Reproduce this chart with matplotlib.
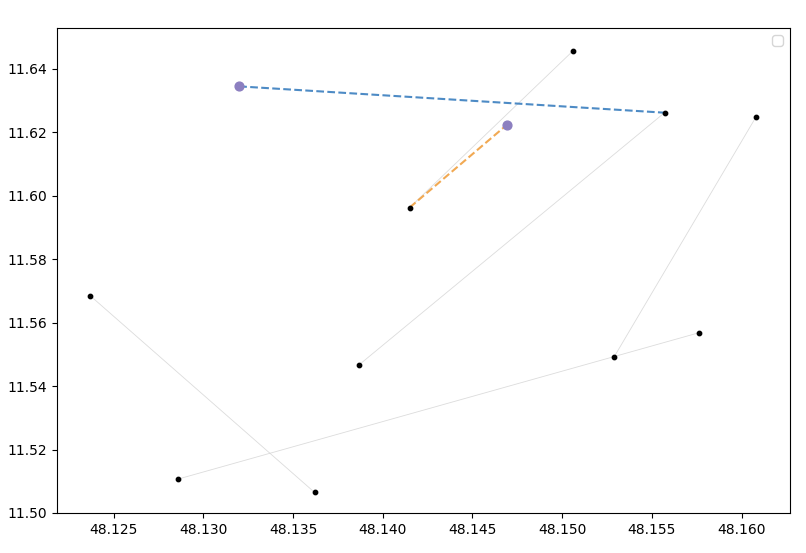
import matplotlib
matplotlib.use("Agg")
import matplotlib.pyplot as plt

seg_x1 = [48.1237, 48.1286, 48.1387, 48.1415, 48.1529]
seg_y1 = [11.5685, 11.5107, 11.5468, 11.5963, 11.5493]
seg_x2 = [48.1362, 48.1576, 48.1557, 48.1506, 48.1608]
seg_y2 = [11.5065, 11.5568, 11.6262, 11.6457, 11.6249]
hub_x = [48.1320, 48.1469]
hub_y = [11.6345, 11.6223]
blue_x = [48.1320, 48.1557]; blue_y = [11.6345, 11.6262]
orange_x = [48.1415, 48.1469]; orange_y = [11.5963, 11.6223]

fig = plt.figure(figsize=(8.06, 5.53), dpi=100)
ax = fig.add_axes([57/806, 40/553, 733/806, 485/553])
for a, b, c, d in zip(seg_x1, seg_y1, seg_x2, seg_y2):
    ax.plot([a, c], [b, d], color='lightgray', lw=0.6, alpha=0.8)
ax.scatter(seg_x1 + seg_x2, seg_y1 + seg_y2, s=10, color='black', zorder=3)
ax.scatter(hub_x, hub_y, s=40, color='#8c7fc0', zorder=3)
ax.plot(blue_x, blue_y, '--', color='#3a7ebf', lw=1.5, alpha=0.9)
ax.plot(orange_x, orange_y, '--', color='#f0a040', lw=1.5, alpha=0.9)
ax.set_xlim(48.12185, 48.16269)
ax.set_ylim(11.50, 11.6529)
ax.set_yticks([11.50, 11.52, 11.54, 11.56, 11.58, 11.60, 11.62, 11.64])
ax.set_xticks([48.125, 48.130, 48.135, 48.140, 48.145, 48.150, 48.155, 48.160])
ax.set_xticklabels([f"{v:.3f}" for v in ax.get_xticks()])
ax.set_yticklabels([f"{v:.2f}" for v in ax.get_yticks()])
ax.legend(handles=[], loc='upper right')
fig.savefig("out.png", dpi=100)
